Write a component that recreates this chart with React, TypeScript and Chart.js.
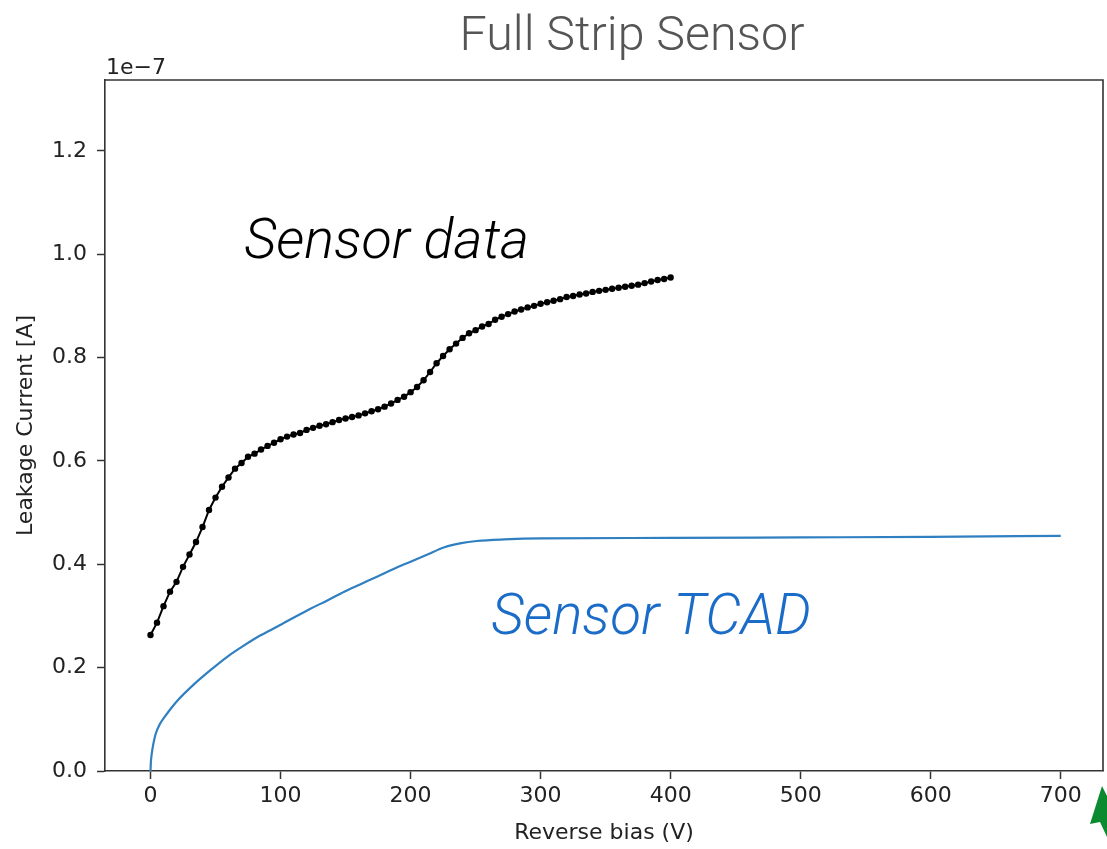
import React, { useEffect, useRef } from "react";
import { Chart, registerables } from "chart.js";

Chart.register(...registerables);

// ---- data (current in units of 1e-7 A) ----
const dataVoltage = [
  0, 5, 10, 15, 20, 25, 30, 35, 40, 45, 50, 55, 60, 65, 70, 75, 80, 85, 90, 95,
  100, 105, 110, 115, 120, 125, 130, 135, 140, 145, 150, 155, 160, 165, 170, 175, 180, 185, 190, 195,
  200, 205, 210, 215, 220, 225, 230, 235, 240, 245, 250, 255, 260, 265, 270, 275, 280, 285, 290, 295,
  300, 305, 310, 315, 320, 325, 330, 335, 340, 345, 350, 355, 360, 365, 370, 375, 380, 385, 390, 395,
  400,
];
const dataCurrent = [
  0.263, 0.287, 0.319, 0.347, 0.366, 0.395, 0.419, 0.443, 0.472, 0.505,
  0.529, 0.55, 0.568, 0.585, 0.596, 0.608, 0.614, 0.622, 0.629, 0.635,
  0.642, 0.647, 0.651, 0.654, 0.66, 0.664, 0.668, 0.671, 0.675, 0.679,
  0.682, 0.685, 0.688, 0.692, 0.696, 0.7, 0.705, 0.711, 0.718, 0.724,
  0.733, 0.743, 0.756, 0.772, 0.789, 0.803, 0.816, 0.827, 0.838, 0.847,
  0.853, 0.86, 0.865, 0.873, 0.879, 0.884, 0.889, 0.893, 0.897, 0.9,
  0.904, 0.907, 0.91, 0.913, 0.917, 0.919, 0.922, 0.924, 0.927, 0.929,
  0.931, 0.933, 0.935, 0.937, 0.939, 0.941, 0.944, 0.947, 0.95, 0.952,
  0.955,
];
const tcadVoltage = [
  0, 0.3, 1, 2, 4, 7, 11, 16, 21, 34, 47, 59, 72, 85, 98, 111, 123, 136, 149, 162, 175,
  187, 200, 213, 226, 239, 251, 272, 300, 400, 500, 600, 700,
];
const tcadCurrent = [
  0, 0.018, 0.034, 0.05, 0.072, 0.09, 0.105, 0.122, 0.137, 0.169, 0.197, 0.221, 0.243,
  0.263, 0.28, 0.298, 0.314, 0.33, 0.347, 0.362, 0.377, 0.391, 0.405, 0.419, 0.433,
  0.441, 0.445, 0.448, 0.45, 0.451, 0.452, 0.453, 0.455,
];
const xTicks = [0, 100, 200, 300, 400, 500, 600, 700];
const yTicks = [0, 0.2, 0.4, 0.6, 0.8, 1.0, 1.2];

const TITLE = "Full Strip Sensor";
const X_LABEL = "Reverse bias (V)";
const Y_LABEL = "Leakage Current [A]";
const OFFSET_TEXT = "1e\u22127";
const ANNOT_DATA = "Sensor data";
const ANNOT_TCAD = "Sensor TCAD";

const W = 1107;
const H = 849;
const TICK_FONT = "DejaVu Sans";

function fitSize(ctx: CanvasRenderingContext2D, text: string, font: string, width: number) {
  ctx.font = font.replace("SIZE", "100px");
  const w = ctx.measureText(text).width;
  return (100 * width) / w;
}

const decorPlugin = {
  id: "decor",
  afterDraw(chart: any) {
    const { ctx, chartArea: a, scales } = chart;
    const x = scales.x;
    const y = scales.y;
    ctx.save();
    // top and right spines
    ctx.strokeStyle = "#333";
    ctx.lineWidth = 1.6;
    ctx.beginPath();
    ctx.moveTo(a.left, a.top);
    ctx.lineTo(a.right, a.top);
    ctx.lineTo(a.right, a.bottom);
    ctx.stroke();

    // title
    const tFont = "300 SIZE Roboto";
    const tSize = fitSize(ctx, TITLE, tFont, 345);
    ctx.font = tFont.replace("SIZE", tSize + "px");
    ctx.fillStyle = "#555";
    ctx.textAlign = "center";
    ctx.textBaseline = "alphabetic";
    ctx.fillText(TITLE, 632, 50);

    // offset text
    ctx.font = `22px ${TICK_FONT}`;
    ctx.fillStyle = "#222";
    ctx.textAlign = "left";
    ctx.fillText(OFFSET_TEXT, a.left + 1, a.top - 6);

    // annotations
    const aFont = "italic 300 SIZE Roboto";
    const dSize = fitSize(ctx, ANNOT_DATA, aFont, 285);
    ctx.font = aFont.replace("SIZE", dSize + "px");
    ctx.fillStyle = "#000";
    ctx.fillText(ANNOT_DATA, x.getPixelForValue(72), y.getPixelForValue(0.992));

    const cSize = fitSize(ctx, ANNOT_TCAD, aFont, 320);
    ctx.font = aFont.replace("SIZE", cSize + "px");
    ctx.fillStyle = "#1a6cc8";
    ctx.fillText(ANNOT_TCAD, x.getPixelForValue(262), y.getPixelForValue(0.266));

    // green arrow decoration at bottom-right
    ctx.fillStyle = "#0b8a2f";
    ctx.beginPath();
    ctx.moveTo(1102, 786);
    ctx.lineTo(1107, 796);
    ctx.lineTo(1107, 837);
    ctx.lineTo(1100, 822);
    ctx.lineTo(1090, 824);
    ctx.closePath();
    ctx.fill();
    ctx.restore();
  },
};

export default function App() {
  const ref = useRef<HTMLCanvasElement | null>(null);

  useEffect(() => {
    if (!ref.current) return;
    const chart = new Chart(ref.current, {
      type: "line",
      data: {
        datasets: [
          {
            label: "Sensor data",
            data: dataVoltage.map((v, i) => ({ x: v, y: dataCurrent[i] })),
            borderColor: "#000",
            backgroundColor: "#000",
            borderWidth: 2,
            pointRadius: 3.2,
            pointBorderWidth: 0,
            pointBackgroundColor: "#000",
            tension: 0,
          },
          {
            label: "Sensor TCAD",
            data: tcadVoltage.map((v, i) => ({ x: v, y: tcadCurrent[i] })),
            borderColor: "#2f7fc1",
            backgroundColor: "#2f7fc1",
            borderWidth: 2.2,
            pointRadius: 0,
            cubicInterpolationMode: "monotone",
          },
        ],
      },
      options: {
        responsive: false,
        animation: false,
        devicePixelRatio: 1,
        layout: { padding: { top: 80, right: 2, left: 0, bottom: 0 } },
        plugins: {
          legend: { display: false },
          title: { display: false },
          tooltip: { enabled: false },
        },
        scales: {
          x: {
            type: "linear",
            min: -35,
            max: 732.5,
            afterBuildTicks: (s: any) => {
              s.ticks = xTicks.map((v) => ({ value: v }));
            },
            afterFit: (s: any) => {
              s.height = 78;
            },
            ticks: {
              font: { family: TICK_FONT, size: 22 },
              color: "#222",
              padding: 4,
              maxRotation: 0,
              autoSkip: false,
              callback: (v: any) => String(v),
            },
            grid: {
              drawOnChartArea: false,
              drawTicks: true,
              tickLength: 8,
              tickWidth: 1.5,
              tickColor: "#333",
            },
            border: { display: true, color: "#333", width: 1.6 },
            title: {
              display: true,
              text: X_LABEL,
              font: { family: TICK_FONT, size: 22 },
              color: "#222",
              padding: { top: 0, bottom: 3 },
            },
          },
          y: {
            type: "linear",
            min: 0,
            max: 1.337,
            afterBuildTicks: (s: any) => {
              s.ticks = yTicks.map((v) => ({ value: v }));
            },
            afterFit: (s: any) => {
              s.width = 105;
            },
            ticks: {
              font: { family: TICK_FONT, size: 22 },
              color: "#222",
              padding: 10,
              autoSkip: false,
              callback: (v: any) => Number(v).toFixed(1),
            },
            grid: {
              drawOnChartArea: false,
              drawTicks: true,
              tickLength: 8,
              tickWidth: 1.5,
              tickColor: "#333",
            },
            border: { display: true, color: "#333", width: 1.6 },
            title: {
              display: true,
              text: Y_LABEL,
              font: { family: TICK_FONT, size: 22 },
              color: "#222",
              padding: { top: 13, bottom: 0 },
            },
          },
        },
      },
      plugins: [decorPlugin],
    } as any);
    return () => chart.destroy();
  }, []);

  return (
    <div style={{ position: "fixed", left: 0, top: 0, width: W, height: H, background: "#fff" }}>
      <canvas ref={ref} width={W} height={H} style={{ display: "block" }} />
    </div>
  );
}
